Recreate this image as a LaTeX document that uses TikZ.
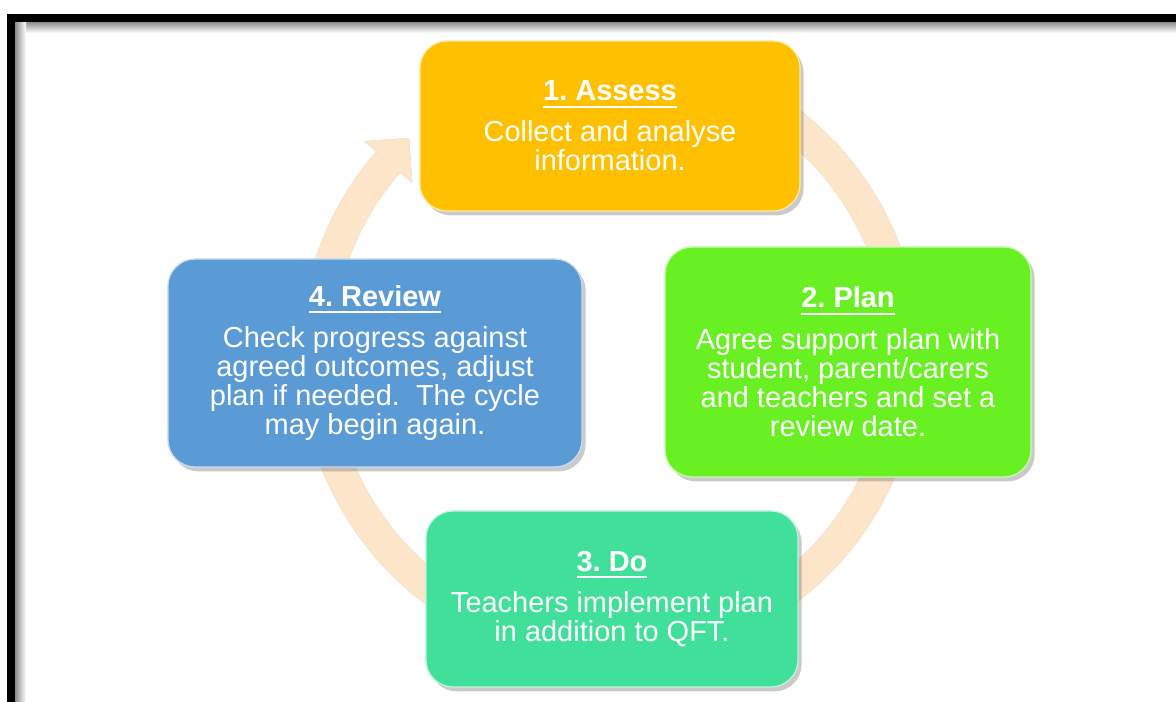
\documentclass[tikz,border=0pt]{standalone}
\usepackage{fontspec}
\setmainfont{Liberation Sans}
\usetikzlibrary{shadows,calc}
\frenchspacing
\definecolor{assesscol}{RGB}{255,192,0}
\definecolor{plancol}{RGB}{104,240,34}
\definecolor{docol}{RGB}{64,224,154}
\definecolor{reviewcol}{RGB}{91,155,213}
\definecolor{bandcol}{RGB}{253,229,202}
\newcommand\ulx[1]{\setbox0\hbox{#1}\rlap{\rule[-5pt]{\wd0}{1.5pt}}\box0}
\tikzset{
  stage/.style={rectangle, rounded corners=0.68cm, draw=white!65!#1, line width=0.9pt,
    fill=#1, text=white, align=center, inner sep=0pt,
    font=\fontsize{20.6}{20.8}\selectfont,
    drop shadow={shadow xshift=0.09cm, shadow yshift=-0.11cm, opacity=0.35, fill=black!60}},
  bandline/.style={draw=bandcol, line width=0.8cm},
  bandshadow/.style={draw=black, line width=0.8cm, draw opacity=#1},
}
\begin{document}
\begin{tikzpicture}[x=0.025cm, y=-0.025cm]
\useasboundingbox (0,0) rectangle (1176,702);
% frame
\shade[top color=black!45, bottom color=white] (15,22) rectangle (1176,33);
\shade[left color=black!45, right color=white] (15,22) rectangle (26,702);
\fill[black] (7,14) rectangle (1176,22);
\fill[black] (7,14) rectangle (15,702);
% cycle band
\coordinate (c) at (610,355);
\foreach \d/\o in {4/0.10, 2/0.15}{
  \begin{scope}[shift={(\d,\d)}]
    \draw[bandshadow=\o] (c) ++(-80:294) arc[start angle=-80, end angle=221, radius=294];
    \fill[black, fill opacity=\o] ($(c)+(221:326)$) -- ($(c)+(221:262)$) -- ($(c)+(221:294)+(311:32)$) -- cycle;
  \end{scope}
}
\draw[bandline] (c) ++(-80:294) arc[start angle=-80, end angle=221, radius=294];
\fill[bandcol] ($(c)+(221:326)$) -- ($(c)+(221:262)$) -- ($(c)+(221:294)+(311:32)$) -- cycle;
% stages
\node[stage=assesscol, minimum width=9.5cm, minimum height=4.25cm] (assess) at (610,126)
  {\textbf{\ulx{1. Assess}}\\[8.4pt]Collect and analyse\\information.};
\node[stage=plancol, minimum width=9.15cm, minimum height=5.75cm] (plan) at (848,362)
  {\textbf{\ulx{2. Plan}}\\[8.4pt]Agree support plan with\\student, parent/carers\\and teachers and set a\\review date.};
\node[stage=docol, minimum width=9.3cm, minimum height=4.4cm] (do) at (612,599)
  {\textbf{\ulx{3. Do}}\\[8.4pt]Teachers implement plan\\in addition to QFT.};
\node[stage=reviewcol, minimum width=10.35cm, minimum height=5.2cm] (review) at (375,363)
  {\textbf{\ulx{4. Review}}\\[8.4pt]Check progress against\\agreed outcomes, adjust\\plan if needed.\ \ The cycle\\may begin again.};
\end{tikzpicture}
\end{document}
